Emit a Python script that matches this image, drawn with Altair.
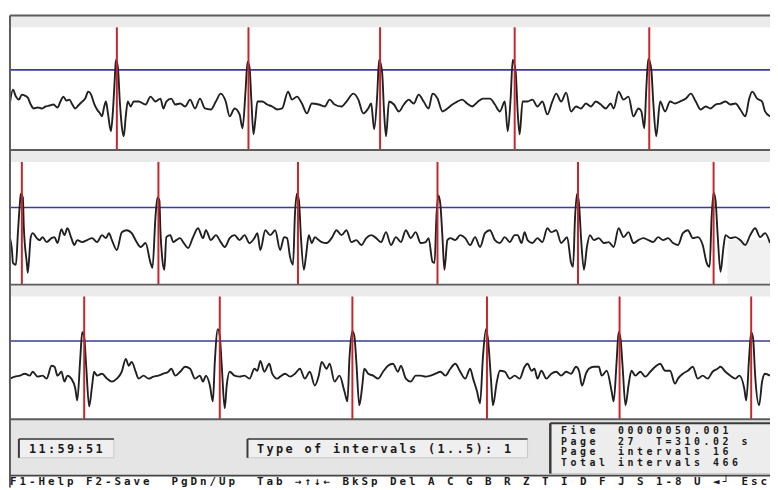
import altair as alt
import pandas as pd

# ---------------- data (time in ms from strip start, amplitude in microvolts) ----------------
STRIP1 = [(0,0),(15,260),(30,120),(45,60),(60,160),(75,140),(90,100),(105,-40),(120,-120),(140,-100),
(160,-120),(180,-80),(200,-60),(220,-40),(240,-100),(255,20),(270,120),(285,40),(300,60),(315,-40),
(330,-120),(345,-60),(365,20),(380,80),(395,220),(410,160),(425,-20),(440,-140),(455,-220),(465,-280),
(475,-100),(485,20),(495,-220),(510,-580),(520,-180),(530,520),(535,860),(545,720),(555,20),(565,-480),
(575,-680),(585,-280),(595,20),(610,-80),(625,20),(650,20),(685,-40),(710,120),(735,20),(760,80),
(775,-120),(790,20),(815,80),(835,-40),(860,-20),(885,-80),(910,60),(935,-120),(960,80),(985,-120),
(1015,-140),(1040,20),(1065,180),(1090,20),(1110,-280),(1135,-120),(1160,-240),(1175,-520),(1190,220),(1200,820),
(1210,720),(1220,20),(1230,-640),(1240,-340),(1250,20),(1275,20),(1300,-40),(1325,-80),(1350,-140),(1375,-120),
(1405,220),(1425,60),(1450,120),(1475,-20),(1500,-220),(1525,-20),(1560,-40),(1590,-80),(1615,60),(1640,-40),
(1675,-80),(1700,20),(1735,180),(1760,60),(1785,-220),(1810,-120),(1825,-20),(1840,-540),(1855,120),(1865,860),
(1880,620),(1890,-180),(1900,-680),(1915,20),(1940,-40),(1965,-180),(1990,-40),(2015,60),(2040,-20),(2065,160),
(2090,20),(2115,-120),(2135,180),(2160,80),(2185,-180),(2210,-120),(2235,-40),(2260,20),(2285,60),(2310,-20),
(2335,-80),(2365,20),(2390,80),(2425,80),(2450,-40),(2475,-180),(2500,20),(2515,-580),(2530,120),(2540,860),
(2555,620),(2565,-180),(2575,-640),(2590,20),(2615,20),(2640,60),(2665,-80),(2690,20),(2715,-240),(2740,20),
(2760,180),(2785,20),(2810,200),(2835,-180),(2860,-80),(2885,-120),(2910,-20),(2935,-80),(2960,20),(2985,-40),
(3010,-120),(3035,-20),(3050,-120),(3075,220),(3100,60),(3125,120),(3150,-280),(3175,-120),(3190,-180),(3205,-520),
(3215,280),(3225,880),(3240,680),(3250,20),(3265,-680),(3285,20),(3310,-180),(3335,20),(3360,-20),(3385,20),
(3415,80),(3440,180),(3465,20),(3490,-140),(3515,-80),(3540,-120),(3565,-40),(3590,-20),(3615,20),(3640,-40),
(3665,-20),(3690,-140),(3715,-280),(3735,80),(3750,220),(3775,80),(3800,20),(3815,-180),(3840,-280)]

STRIP2 = [(0,-20),(10,-260),(15,-520),(30,-560),(40,80),(50,680),(55,880),(65,800),(70,200),(85,-520),
(90,-720),(105,0),(115,80),(135,-20),(150,-60),(165,0),(185,-100),(210,-20),(225,0),(240,-120),
(260,160),(275,40),(290,180),(310,-20),(325,-160),(340,-60),(365,-100),(390,-60),(415,-20),(440,-100),
(465,40),(485,-20),(500,80),(515,-60),(540,-260),(565,100),(590,140),(615,80),(640,-100),(660,-200),
(685,-120),(710,-520),(720,-620),(735,400),(745,800),(755,740),(760,140),(770,-460),(780,-660),(790,0),
(810,40),(825,-100),(840,-60),(860,-20),(875,-100),(900,-220),(925,0),(950,180),(975,-20),(990,140),
(1015,-60),(1040,40),(1065,-100),(1085,-200),(1110,-20),(1135,40),(1160,-60),(1185,40),(1210,-120),(1235,-20),
(1250,80),(1265,-260),(1290,140),(1315,40),(1340,140),(1365,-260),(1385,0),(1400,-20),(1415,-400),(1430,-560),
(1440,480),(1450,880),(1460,740),(1470,0),(1485,-660),(1495,-400),(1510,40),(1525,-120),(1540,0),(1560,-60),
(1575,-100),(1600,-120),(1625,-20),(1650,140),(1675,40),(1700,140),(1725,-100),(1750,-60),(1775,-160),(1800,-20),
(1825,40),(1850,-20),(1875,-100),(1900,100),(1925,-160),(1950,0),(1975,-100),(2000,140),(2025,-20),(2050,100),
(2075,-120),(2100,-100),(2115,-20),(2135,-500),(2145,-520),(2155,440),(2165,840),(2175,640),(2185,0),(2195,-660),
(2210,-60),(2225,-20),(2250,-60),(2275,40),(2300,-20),(2325,-160),(2350,0),(2375,-200),(2400,80),(2425,140),
(2450,-60),(2475,-120),(2500,0),(2525,-100),(2550,40),(2565,40),(2585,-120),(2600,100),(2615,-60),(2640,-120),
(2665,-20),(2690,-100),(2715,180),(2735,100),(2760,140),(2785,-120),(2800,-60),(2815,0),(2835,-520),(2845,-600),
(2855,400),(2865,880),(2875,680),(2885,0),(2900,-660),(2915,-200),(2930,40),(2950,-60),(2975,-20),(3000,-120),
(3025,-100),(3050,-200),(3075,180),(3100,0),(3125,100),(3150,-120),(3175,-60),(3200,-20),(3225,-60),(3250,-100),
(3275,0),(3300,-60),(3325,-20),(3350,-120),(3375,-160),(3400,80),(3425,140),(3450,-20),(3475,0),(3500,-160),
(3520,-520),(3535,-600),(3545,400),(3555,900),(3565,740),(3575,80),(3590,-700),(3605,-200),(3615,40),(3640,-20),
(3665,0),(3690,-60),(3715,-160),(3740,40),(3765,180),(3790,0),(3815,80),(3840,-120)]

STRIP3 = [(0,-140),(25,-100),(50,-80),(75,-40),(100,-80),(115,0),(140,-100),(165,-80),(185,-140),(210,120),
(225,100),(240,-80),(260,0),(275,-200),(290,-80),(310,-140),(330,-340),(340,-580),(355,260),(365,800),
(375,700),(385,120),(400,-700),(415,-280),(425,0),(440,-80),(465,-40),(490,-140),(515,-200),(540,-140),
(565,0),(585,260),(600,120),(615,200),(635,0),(650,-140),(675,-80),(700,-140),(725,-100),(750,-80),
(775,-40),(800,0),(815,60),(835,-80),(860,0),(885,100),(910,60),(935,-140),(960,-80),(975,-200),
(990,-80),(1010,-280),(1025,-600),(1035,200),(1050,860),(1060,720),(1070,120),(1085,-740),(1095,-280),(1110,0),
(1135,-80),(1160,-100),(1185,-80),(1210,-140),(1235,60),(1250,20),(1265,220),(1285,0),(1310,160),(1325,-40),
(1350,-140),(1365,-100),(1390,-40),(1415,-100),(1440,-40),(1465,60),(1490,-140),(1515,0),(1540,-280),(1560,-80),
(1575,200),(1600,60),(1615,160),(1640,-200),(1665,-80),(1690,-400),(1705,-600),(1715,260),(1730,820),(1740,720),
(1750,200),(1765,-680),(1780,-280),(1790,60),(1810,-40),(1835,-80),(1860,-140),(1885,0),(1910,120),(1935,160),
(1960,0),(1975,120),(2000,-140),(2025,-200),(2050,-80),(2075,-80),(2100,-100),(2125,-80),(2150,-40),(2175,0),
(2200,-80),(2225,60),(2250,160),(2275,0),(2300,-140),(2325,60),(2340,-140),(2360,-400),(2375,-640),(2390,320),
(2405,860),(2415,660),(2430,-140),(2440,-680),(2460,-200),(2475,20),(2500,0),(2525,-140),(2550,-80),(2575,-140),
(2600,100),(2615,160),(2635,20),(2650,60),(2665,-140),(2685,20),(2710,-140),(2735,-40),(2760,0),(2785,-80),
(2810,0),(2835,-40),(2860,100),(2875,20),(2890,-280),(2910,-40),(2925,60),(2950,100),(2975,100),(2990,-80),
(3015,20),(3040,-400),(3050,-600),(3065,200),(3075,800),(3085,660),(3095,120),(3110,-680),(3125,-280),(3140,20),
(3160,-80),(3185,0),(3210,-100),(3235,0),(3260,100),(3285,160),(3310,20),(3335,20),(3360,-240),(3375,-140),
(3400,-40),(3425,20),(3450,100),(3475,-140),(3500,-80),(3525,-140),(3550,0),(3575,60),(3590,100),(3615,0),
(3640,-80),(3665,-140),(3685,-80),(3710,-340),(3720,-580),(3735,320),(3745,800),(3755,660),(3765,-80),(3785,-680),
(3800,-200),(3815,-40),(3840,-80)]

RPEAKS1 = [540, 1205, 1870, 2550, 3230]
RPEAKS2 = [60, 750, 1455, 2160, 2870, 3555]
RPEAKS3 = [375, 1060, 1730, 2410, 3080, 3745]
THRESHOLDS = [660, 600, 620]

CLOCK = "11:59:51"
PROMPT = "Type of intervals (1..5): 1"
INFO_LINES = ["File  00000050.001", "Page  27  T=310.02 s", "Page  intervals 16", "Total intervals 466"]
KEYS_LINE = "F1-Help F2-Save  PgDn/Up  Tab →↑↓← BkSp Del A C G B R Z T I D F J S 1-8 U ◄┘ Esc"

# ---------------- layout / style ----------------
W = 768                 # plot width (px)
SH = 136                # strip height (px)
ST = 408                # status panel top (px)
TOTAL_H = 477           # plot height (px)
UV_PER_PX = 20
STRIP_SPAN = SH * UV_PER_PX          # 2720 uV per strip
TOP_UV = 1760
XS = alt.Scale(domain=[0, 3840], nice=False, zero=False)
YS = alt.Scale(domain=[TOP_UV - TOTAL_H * UV_PER_PX, TOP_UV], nice=False, zero=False)
RED, BLUE, INK, FRAME = "#c3262c", "#3b3b9e", "#202020", "#5c5c5c"
ONE = pd.DataFrame({"k": [0]})


def rect(x, x2, y, y2, fill, stroke=None):
    kw = dict(fill=fill)
    if stroke:
        kw.update(stroke=stroke, strokeWidth=1)
    return alt.Chart(ONE).mark_rect(**kw).encode(
        x=alt.value(x), x2=alt.value(x2), y=alt.value(y), y2=alt.value(y2))


def hline(x, x2, y, color, w):
    return alt.Chart(ONE).mark_rule(color=color, strokeWidth=w).encode(
        x=alt.value(x), x2=alt.value(x2), y=alt.value(y))


def vline(x, y, y2, color, w):
    return alt.Chart(ONE).mark_rule(color=color, strokeWidth=w).encode(
        x=alt.value(x), y=alt.value(y), y2=alt.value(y2))


def strip_layers(k, samples, rpeaks, thr):
    off = STRIP_SPAN * k
    top = SH * k
    wave_df = pd.DataFrame(samples, columns=["t", "v"])
    blue = alt.Chart(pd.DataFrame({"v": [thr]})).transform_calculate(
        yp=f"datum.v - {off}").mark_rule(color=BLUE, strokeWidth=1.6).encode(
        y=alt.Y("yp:Q", scale=YS, axis=None))
    wave = alt.Chart(wave_df).transform_calculate(
        yp=f"datum.v - {off}").mark_line(color=INK, strokeWidth=1.9, interpolate="monotone").encode(
        x=alt.X("t:Q", scale=XS, axis=None), y=alt.Y("yp:Q", scale=YS, axis=None))
    red = alt.Chart(pd.DataFrame({"t": rpeaks})).mark_rule(color=RED, strokeWidth=2).encode(
        x=alt.X("t:Q", scale=XS, axis=None), y=alt.value(top + 12), y2=alt.value(top + SH))
    band = rect(0, W, top, top + 12, "#ebebeb")
    return [band, blue, wave, red]


def text_line(s, col, ypos, size):
    df = pd.DataFrame([{"c": col + j, "ch": ch} for j, ch in enumerate(s) if ch != " "])
    return alt.Chart(df).mark_text(font="DejaVu Sans Mono", fontSize=size, fontWeight="bold",
                                   color="#1a1a1a", align="left", baseline="middle").encode(
        x=alt.X("c:Q", scale=alt.Scale(domain=[0, 80], nice=False, zero=False), axis=None),
        y=alt.value(ypos), text="ch:N")


layers = []
layers.append(rect(725, W, 227, 273, "#f1f1f1"))       # grey patch at strip-2 lower right
for k, (s, r, th) in enumerate([(STRIP1, RPEAKS1, THRESHOLDS[0]),
                                (STRIP2, RPEAKS2, THRESHOLDS[1]),
                                (STRIP3, RPEAKS3, THRESHOLDS[2])]):
    layers += strip_layers(k, s, r, th)

# status panel chrome
layers += [
    rect(0, W, ST, ST + 57, "#e5e5e5"),
    rect(9, 105, ST + 20, ST + 39, "#efefef", "#c8c8c8"),
    vline(9, ST + 20, ST + 39, "#3a3a3a", 2), hline(9, 105, ST + 20, "#3a3a3a", 1.5),
    rect(240, 523, ST + 20, ST + 39, "#efefef", "#c8c8c8"),
    vline(240, ST + 20, ST + 39, "#3a3a3a", 2), hline(240, 523, ST + 20, "#3a3a3a", 1.5),
    rect(546, W + 4, ST + 4, ST + 55, "#ededed", "#c8c8c8"),
    vline(546, ST + 4, ST + 55, "#3a3a3a", 2.5), hline(546, W, ST + 4, "#3a3a3a", 2),
    hline(0, W, ST + 57, "#444444", 2),
]
# frame lines
for k in range(4):
    layers.append(hline(0, W, SH * k, FRAME, 2))
layers.append(vline(0, 0, TOTAL_H, FRAME, 2))

# status texts on the character grid
layers.append(text_line(CLOCK, 2, ST + 30, 12))
layers.append(text_line(PROMPT, 26, ST + 30, 12))
for i, line in enumerate(INFO_LINES):
    layers.append(text_line(line, 58, ST + 12 + 10.8 * i, 10))
layers.append(text_line(KEYS_LINE, 0, ST + 63, 11))

chart = alt.layer(*layers).resolve_scale(x="independent", y="independent").properties(
    width=W, height=TOTAL_H,
    autosize=alt.AutoSizeParams(type="none"),
    padding={"left": 2, "top": 5, "right": 0, "bottom": 0},
    background="white",
).configure_view(strokeWidth=0)

chart.save("out.html", embed_options={"renderer": "svg", "actions": False})
